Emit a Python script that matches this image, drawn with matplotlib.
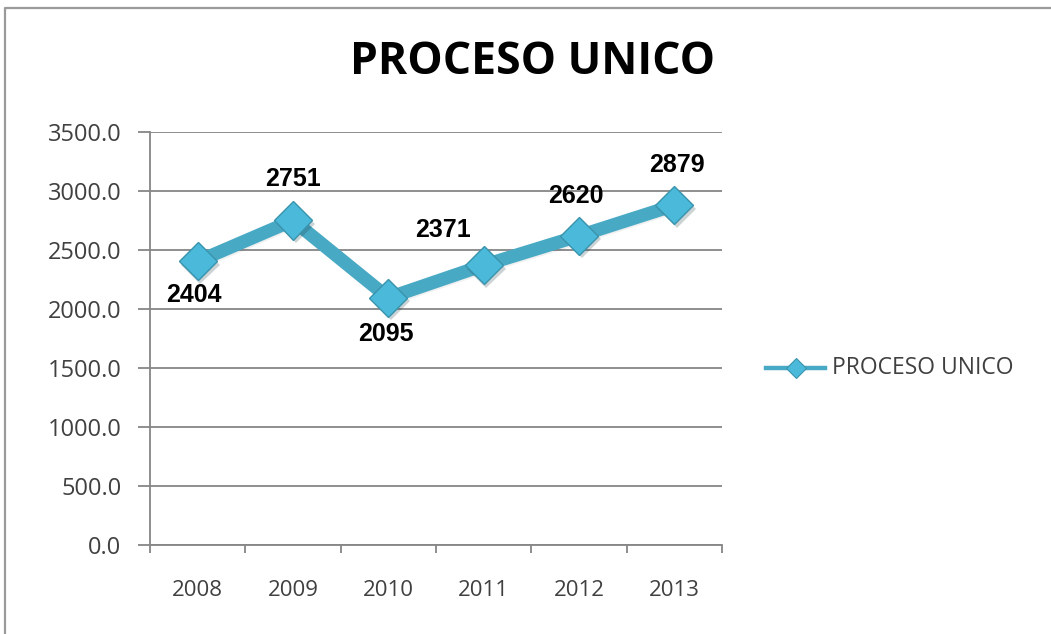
import matplotlib
matplotlib.use("Agg")
import matplotlib.pyplot as plt
from matplotlib.lines import Line2D
import matplotlib.patheffects as pe

years = ["2008", "2009", "2010", "2011", "2012", "2013"]
values = [2404, 2751, 2095, 2371, 2620, 2879]
series_name = "PROCESO UNICO"
title = "PROCESO UNICO"
yticks = [0, 500, 1000, 1500, 2000, 2500, 3000, 3500]

W, H = 1051, 634
fig = plt.figure(figsize=(W / 100, H / 100), dpi=100)

def fx(px):
    return px / W

def fy(py):
    return 1 - py / H

# chart-area border (only top and left edges visible)
fig.add_artist(Line2D([fx(5), fx(5), 1.0], [0.0, fy(8), fy(8)], transform=fig.transFigure,
                      color="#9a9a9a", linewidth=1.6))

ax = fig.add_axes([fx(150), fy(545), (722 - 150) / W, (545 - 132) / H])

x = list(range(len(years)))
line_color = "#48a9c4"
mk_face = "#4bb9d9"
mk_edge = "#3a93ad"
ax.plot(x, values, color=line_color, linewidth=9.5, solid_joinstyle="miter", zorder=3,
        path_effects=[pe.SimpleLineShadow(offset=(1, -1), alpha=0.06), pe.Normal()])
ax.plot(x, values, linestyle="none", marker="D", markersize=19.5, markerfacecolor=mk_face,
        markeredgecolor=mk_edge, markeredgewidth=1.0, zorder=4,
        path_effects=[pe.SimplePatchShadow(offset=(2, -2.5), alpha=0.22), pe.Normal()])

ax.set_xlim(-0.5, len(years) - 0.5)
ax.set_ylim(0, 3500)
ax.set_yticks(yticks)
ax.set_yticklabels([f"{v:.1f}" for v in yticks])
ax.set_xticks(x)
ax.set_xticklabels(years)
ax.set_xticks([i - 0.5 for i in range(len(years) + 1)], minor=True)
ax.tick_params(axis="x", which="major", length=0, pad=25)
ax.tick_params(axis="x", which="minor", length=6, color="#868686", width=1.3)
ax.tick_params(axis="y", length=8.6, color="#868686", width=1.3, pad=12)
for lab in ax.get_xticklabels():
    lab.set_fontfamily("Open Sans")
    lab.set_fontsize(16)
    lab.set_color("#404040")
for lab in ax.get_yticklabels():
    lab.set_fontfamily("Open Sans")
    lab.set_fontsize(17)
    lab.set_color("#404040")

ax.grid(axis="y", color="#868686", linewidth=1.3)
ax.set_axisbelow(True)
for s in ["top", "right"]:
    ax.spines[s].set_visible(False)
for s in ["left", "bottom"]:
    ax.spines[s].set_color("#868686")
    ax.spines[s].set_linewidth(1.3)

# data labels (offsets in points)
offsets = [(-3, -24), (0, 30), (-2, -26), (-29, 25), (-2, 29), (2, 29)]
for xi, v, (dx, dy) in zip(x, values, offsets):
    ax.annotate(str(v), (xi, v), xytext=(dx, dy), textcoords="offset points",
                ha="center", va="center", fontsize=18, fontweight="bold",
                fontfamily="Liberation Sans", color="black", zorder=5)

fig.text(fx(533), fy(62), title, ha="center", va="center", fontsize=32,
         fontweight="bold", fontfamily="Open Sans", color="black")

# legend (drawn manually)
fig.add_artist(Line2D([fx(766), fx(825)], [fy(368), fy(368)], transform=fig.transFigure,
                      color=line_color, linewidth=3.2))
fig.add_artist(Line2D([fx(795.5)], [fy(368)], transform=fig.transFigure, linestyle="none",
                      marker="D", markersize=10, markerfacecolor=mk_face,
                      markeredgecolor=mk_edge, markeredgewidth=0.8))
fig.text(fx(832), fy(368), series_name, ha="left", va="center", fontsize=16.5,
         fontfamily="Open Sans", color="#404040")

fig.savefig("out.png", dpi=100)
